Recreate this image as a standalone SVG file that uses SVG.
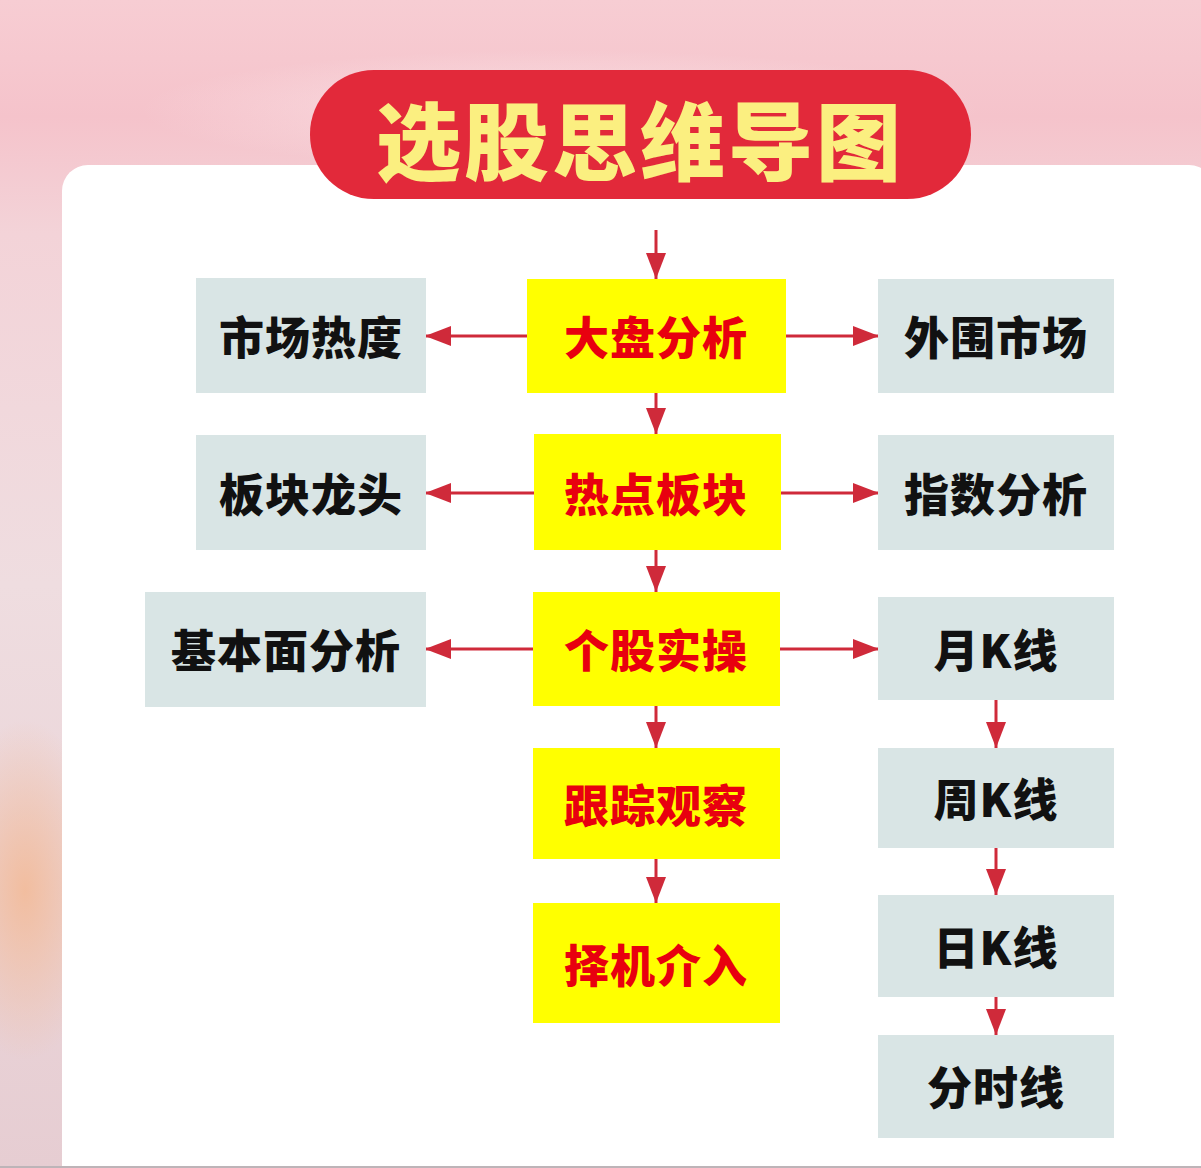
<svg xmlns="http://www.w3.org/2000/svg" width="1201" height="1168" viewBox="0 0 1201 1168">
  <defs>
    <linearGradient id="bg" x1="0" y1="0" x2="0" y2="1">
      <stop offset="0" stop-color="#F7CDD3"/>
      <stop offset="0.1" stop-color="#F5C3CB"/>
      <stop offset="0.2" stop-color="#F3D3D8"/>
      <stop offset="0.5" stop-color="#EFDDE0"/>
      <stop offset="1" stop-color="#E6CDD2"/>
    </linearGradient>
    <radialGradient id="peach" cx="0.5" cy="0.5" r="0.5">
      <stop offset="0" stop-color="#F2BC9C" stop-opacity="0.95"/>
      <stop offset="1" stop-color="#F2BC9C" stop-opacity="0"/>
    </radialGradient>
    <radialGradient id="glow" cx="0.5" cy="0.5" r="0.5">
      <stop offset="0" stop-color="#FBE7EA" stop-opacity="0.8"/>
      <stop offset="1" stop-color="#FBE7EA" stop-opacity="0"/>
    </radialGradient>
    <marker id="ah" viewBox="0 0 26 20" refX="26" refY="10" markerWidth="26" markerHeight="20" markerUnits="userSpaceOnUse" orient="auto">
      <path d="M0,0 L26,10 L0,20 z" fill="#CF2A3A"/>
    </marker>
    <style>
      .main rect { fill: #FFFF00; }
      .side rect { fill: #D9E5E5; }
      .main text { fill: #E8000F; font-family: "Noto Sans CJK SC", "Noto Sans", sans-serif; font-weight: 900; font-size: 45px; letter-spacing: 1px; text-anchor: middle; dominant-baseline: central; }
      .side text { fill: #111111; font-family: "Noto Sans CJK SC", "Noto Sans", sans-serif; font-weight: 900; font-size: 45px; letter-spacing: 1px; text-anchor: middle; dominant-baseline: central; }
      .conn line { stroke: #CF2A3A; stroke-width: 3; marker-end: url(#ah); }
    </style>
  </defs>

  <!-- background -->
  <rect x="0" y="0" width="1201" height="1168" fill="url(#bg)"/>
  <ellipse cx="560" cy="110" rx="420" ry="60" fill="url(#glow)"/>
  <ellipse cx="25" cy="890" rx="80" ry="170" fill="url(#peach)"/>

  <!-- white card -->
  <rect x="62" y="165" width="1153" height="1030" rx="26" fill="#FFFFFF"/>
  <rect x="0" y="1166" width="1201" height="2" fill="#BDB4B8"/>

  <!-- title -->
  <g id="title">
    <rect x="310" y="70" width="661" height="129" rx="64" fill="#E2293A"/>
    <text x="640" y="136" fill="#FBEF80" font-family="'Noto Sans CJK SC', 'Noto Sans', sans-serif" font-weight="900" font-size="85" letter-spacing="3" text-anchor="middle" dominant-baseline="central">选股思维导图</text>
  </g>

  <!-- connectors -->
  <g id="connectors" class="conn">
    <line x1="656" y1="230" x2="656" y2="279"/>
    <line x1="656" y1="393" x2="656" y2="434"/>
    <line x1="656" y1="550" x2="656" y2="592"/>
    <line x1="656" y1="706" x2="656" y2="748"/>
    <line x1="656" y1="859" x2="656" y2="903"/>
    <line x1="527" y1="336" x2="425" y2="336"/>
    <line x1="786" y1="336" x2="879" y2="336"/>
    <line x1="534" y1="493" x2="425" y2="493"/>
    <line x1="781" y1="493" x2="879" y2="493"/>
    <line x1="533" y1="649" x2="425" y2="649"/>
    <line x1="780" y1="649" x2="879" y2="649"/>
    <line x1="996" y1="700" x2="996" y2="748"/>
    <line x1="996" y1="848" x2="996" y2="895"/>
    <line x1="996" y1="997" x2="996" y2="1035"/>
  </g>

  <!-- main column -->
  <g id="n-dapan" class="main"><rect x="527" y="279" width="259" height="114"/><text x="656" y="335">大盘分析</text></g>
  <g id="n-redian" class="main"><rect x="534" y="434" width="247" height="116"/><text x="656" y="492">热点板块</text></g>
  <g id="n-gegu" class="main"><rect x="533" y="592" width="247" height="114"/><text x="656" y="648">个股实操</text></g>
  <g id="n-genzong" class="main"><rect x="533" y="748" width="247" height="111"/><text x="656" y="803">跟踪观察</text></g>
  <g id="n-zeji" class="main"><rect x="533" y="903" width="247" height="120"/><text x="656" y="963">择机介入</text></g>

  <!-- left column -->
  <g id="n-shichang" class="side"><rect x="196" y="278" width="230" height="115"/><text x="311" y="335">市场热度</text></g>
  <g id="n-longtou" class="side"><rect x="196" y="435" width="230" height="115"/><text x="311" y="492">板块龙头</text></g>
  <g id="n-jibenmian" class="side"><rect x="145" y="592" width="281" height="115"/><text x="286" y="648">基本面分析</text></g>

  <!-- right column -->
  <g id="n-waiwei" class="side"><rect x="878" y="279" width="236" height="114"/><text x="996" y="335">外围市场</text></g>
  <g id="n-zhishu" class="side"><rect x="878" y="435" width="236" height="115"/><text x="996" y="492">指数分析</text></g>
  <g id="n-yuek" class="side"><rect x="878" y="597" width="236" height="103"/><text x="996" y="648">月K线</text></g>
  <g id="n-zhouk" class="side"><rect x="878" y="748" width="236" height="100"/><text x="996" y="797">周K线</text></g>
  <g id="n-rik" class="side"><rect x="878" y="895" width="236" height="102"/><text x="996" y="945">日K线</text></g>
  <g id="n-fenshi" class="side"><rect x="878" y="1035" width="236" height="103"/><text x="996" y="1085">分时线</text></g>
</svg>
